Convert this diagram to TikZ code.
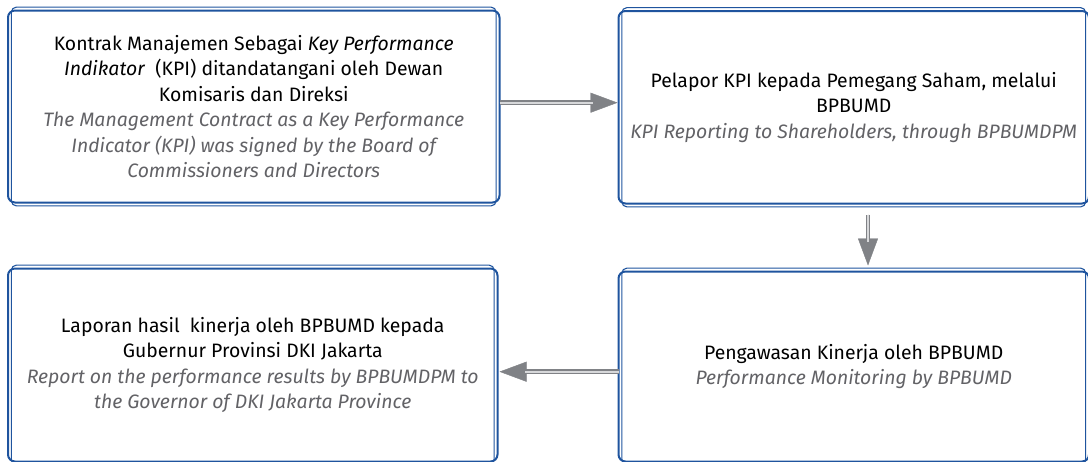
\documentclass[tikz,border=0pt]{standalone}
\usepackage{fontspec}
\setmainfont{Fira Sans}
\usetikzlibrary{arrows.meta}
\definecolor{bdblue}{RGB}{31,84,158}
\definecolor{engray}{RGB}{98,98,102}
\definecolor{arrgray}{RGB}{128,130,134}
\definecolor{arrlight}{RGB}{215,216,218}
\tikzset{
  boxframe/.style={draw=bdblue, line width=2pt, rounded corners=7pt, inner sep=0pt, outer sep=0pt, align=center,
    font=\fontsize{19.4}{25.5}\selectfont},
  innerframe/.style={draw=bdblue, line width=1.1pt, rounded corners=5pt},
  tiponly/.style={draw=arrgray, fill=arrgray, line width=0.4pt, -{Triangle[length=27pt,width=20pt]}},
  dblline/.style={draw=arrgray, double=arrlight, line width=1.4pt, double distance=1.8pt},
}
\newcommand\innerbox[1]{\draw[innerframe] ([shift={(3.4,-3.4)}]#1.north west) rectangle ([shift={(-3.4,3.4)}]#1.south east);}
\begin{document}
\begin{tikzpicture}[x=1pt,y=-1pt]
\useasboundingbox (0,0) rectangle (1088,461);
\node[boxframe, minimum width=491.5pt, minimum height=192pt, anchor=north west] (b1) at (8,10.5)
  {Kontrak Manajemen Sebagai \textit{Key Performance}\\
   \textit{Indikator}\ \ (KPI) ditandatangani oleh Dewan\\
   Komisaris dan Direksi\\
   {\color{engray}\itshape The Management Contract as a Key Performance}\\
   {\color{engray}\itshape Indicator (KPI) was signed by the Board of}\\
   {\color{engray}\itshape Commissioners and Directors}};
\node[boxframe, minimum width=470.5pt, minimum height=192.5pt, anchor=north west] (b2) at (618.5,11)
  {Pelapor KPI kepada Pemegang Saham, melalui\\
   BPBUMD\\
   {\color{engray}\itshape KPI Reporting to Shareholders, through BPBUMDPM}};
\node[boxframe, minimum width=489.5pt, minimum height=193pt, anchor=north west] (b3) at (8,268.5)
  {Laporan hasil\ \ kinerja oleh BPBUMD kepada\\
   Gubernur Provinsi DKI Jakarta\\
   {\color{engray}\itshape Report on the performance results by BPBUMDPM to}\\
   {\color{engray}\itshape the Governor of DKI Jakarta Province}};
\node[boxframe, minimum width=470.5pt, minimum height=190pt, anchor=north west] (b4) at (618.5,271.5)
  {Pengawasan Kinerja oleh BPBUMD\\
   {\color{engray}\itshape Performance Monitoring by BPBUMD}};
\innerbox{b1}
\innerbox{b2}
\innerbox{b3}
\innerbox{b4}
\coordinate (r1) at (0,102.7);
\coordinate (r2) at (868,0);
\coordinate (r3) at (0,371.7);
% arrow 1
\draw[tiponly, shorten >=1pt] (b1.east |- r1) -- (b2.west |- r1);
\draw[dblline, shorten >=26pt] (b1.east |- r1) -- (b2.west |- r1);
% arrow 2
\draw[tiponly, shorten <=11pt, shorten >=6pt] (b2.south -| r2) -- (b4.north -| r2);
\draw[dblline, shorten <=11pt, shorten >=30pt] (b2.south -| r2) -- (b4.north -| r2);
% arrow 3
\draw[tiponly, shorten >=2pt] (b4.west |- r3) -- (b3.east |- r3);
\draw[dblline, shorten >=27pt] (b4.west |- r3) -- (b3.east |- r3);
\end{tikzpicture}
\end{document}
